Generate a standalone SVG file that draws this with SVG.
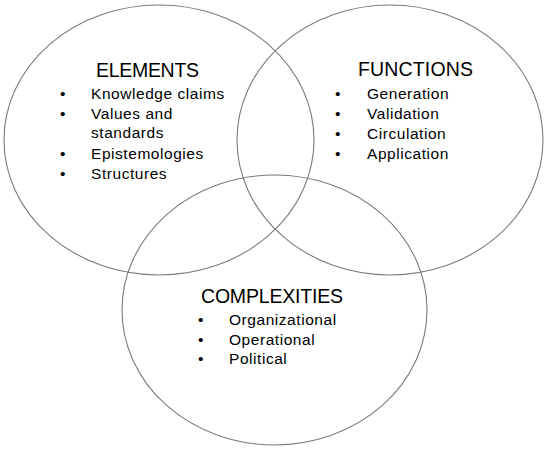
<svg xmlns="http://www.w3.org/2000/svg" width="550" height="450" viewBox="0 0 550 450">
<style>
.c{fill:none;stroke:#7a7a7a;stroke-width:1.1}
.h{font-family:"Liberation Sans",Arial,sans-serif;font-size:19.5px;fill:#000}
.t{font-family:"Liberation Sans",Arial,sans-serif;font-size:15.5px;letter-spacing:0.55px;fill:#000}
.b{font-family:"Liberation Sans",Arial,sans-serif;font-size:15.5px;fill:#000}
</style>
<rect width="550" height="450" fill="#fff"/>
<g id="connectors"></g>
<g id="elements">
<ellipse class="c" cx="159" cy="140" rx="155" ry="135"/>
<text class="h" x="96" y="77" textLength="103">ELEMENTS</text>
<text class="b" x="60" y="99">•</text><text class="t" x="91" y="99">Knowledge claims</text>
<text class="b" x="60" y="119">•</text><text class="t" x="91" y="119">Values and</text>
<text class="t" x="91" y="138">standards</text>
<text class="b" x="60" y="159">•</text><text class="t" x="91" y="159">Epistemologies</text>
<text class="b" x="60" y="179">•</text><text class="t" x="91" y="179">Structures</text>
</g>
<g id="functions">
<ellipse class="c" cx="390" cy="140" rx="153" ry="135"/>
<text class="h" x="358" y="76" textLength="115">FUNCTIONS</text>
<text class="b" x="335" y="99">•</text><text class="t" x="367" y="99">Generation</text>
<text class="b" x="335" y="119">•</text><text class="t" x="367" y="119">Validation</text>
<text class="b" x="335" y="139">•</text><text class="t" x="367" y="139">Circulation</text>
<text class="b" x="335" y="159">•</text><text class="t" x="367" y="159">Application</text>
</g>
<g id="complexities">
<ellipse class="c" cx="274.5" cy="310" rx="152.5" ry="135"/>
<text class="h" x="201" y="303" textLength="142">COMPLEXITIES</text>
<text class="b" x="198" y="325">•</text><text class="t" x="229" y="325">Organizational</text>
<text class="b" x="198" y="345">•</text><text class="t" x="229" y="345">Operational</text>
<text class="b" x="198" y="364">•</text><text class="t" x="229" y="364">Political</text>
</g>
</svg>
